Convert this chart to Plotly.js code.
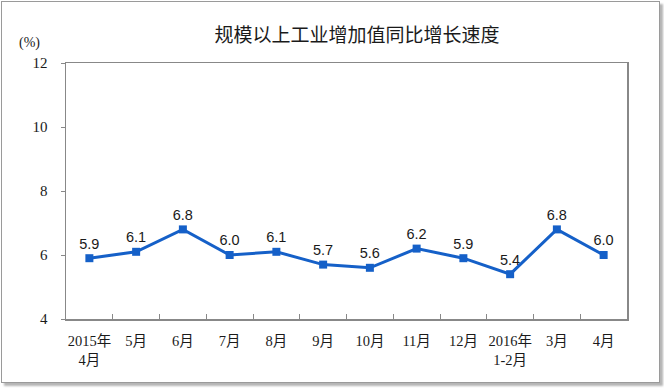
<!DOCTYPE html>
<html>
<head>
<meta charset="utf-8">
<script src="https://cdn.plot.ly/plotly-3.0.1.min.js"></script>
<style>
html,body{margin:0;padding:0;background:#fff;}
#wrap{position:relative;width:664px;height:390px;}
#chart{width:664px;height:390px;}
#frame{position:absolute;left:1px;top:1px;width:657px;height:380px;border:1px solid #9a9a9a;box-shadow:3px 3px 2px #b5b5b5;pointer-events:none;}
</style>
</head>
<body>
<div id="wrap">
<div id="chart"></div>
<div id="frame"></div>
</div>
<script>
const categories = ["2015年<br>4月","5月","6月","7月","8月","9月","10月","11月","12月","2016年<br>1-2月","3月","4月"];
const growth = [5.9, 6.1, 6.8, 6.0, 6.1, 5.7, 5.6, 6.2, 5.9, 5.4, 6.8, 6.0];
const labels = ["5.9","6.1","6.8","6.0","6.1","5.7","5.6","6.2","5.9","5.4","6.8","6.0"];
const yTicks = [4, 6, 8, 10, 12];

const trace = {
  x: categories,
  y: growth,
  type: 'scatter',
  mode: 'lines+markers+text',
  text: labels,
  textposition: 'top center',
  textfont: {family: 'Liberation Sans, Arial, sans-serif', size: 14.5, color: '#1a1a1a'},
  line: {color: '#1560c8', width: 3},
  marker: {symbol: 'square', size: 8, color: '#1560c8'},
  cliponaxis: false,
  hoverinfo: 'none'
};

const layout = {
  width: 664, height: 390,
  margin: {l: 66, r: 37, t: 63, b: 71},
  paper_bgcolor: '#ffffff',
  plot_bgcolor: '#ffffff',
  showlegend: false,
  title: {
    text: '规模以上工业增加值同比增长速度',
    font: {family: 'Noto Sans CJK SC, sans-serif', size: 19, color: '#1a1a1a'},
    x: 357/664, xanchor: 'center', xref: 'container',
    y: 1 - 35/390, yanchor: 'middle', yref: 'container'
  },
  xaxis: {
    type: 'category',
    range: [-0.5, 11.5],
    tickson: 'boundaries',
    tickangle: 0,
    ticks: 'inside', ticklen: 5, tickcolor: '#888',
    showline: true, linecolor: '#888', linewidth: 1.5, mirror: true,
    showgrid: false, zeroline: false,
    tickfont: {family: 'Liberation Serif, Noto Sans CJK SC, serif', size: 14.5, color: '#1a1a1a'},
    ticklabelstandoff: 8
  },
  yaxis: {
    range: [4, 12],
    tickvals: yTicks,
    ticktext: yTicks.map(String),
    ticks: 'outside', ticklen: 4, tickcolor: '#888',
    showline: true, linecolor: '#888', linewidth: 1.5, mirror: true,
    showgrid: false, zeroline: false,
    tickfont: {family: 'Liberation Serif, serif', size: 15, color: '#1a1a1a'},
    ticklabelstandoff: 10
  },
  annotations: [{
    text: '(%)', xref: 'paper', yref: 'paper',
    x: -36/561, y: 1 + 20/256, xanchor: 'center', yanchor: 'middle',
    showarrow: false,
    font: {family: 'Liberation Serif, serif', size: 14, color: '#1a1a1a'}
  }]
};

Plotly.newPlot('chart', [trace], layout, {displayModeBar: false, staticPlot: true});
</script>
</body>
</html>
